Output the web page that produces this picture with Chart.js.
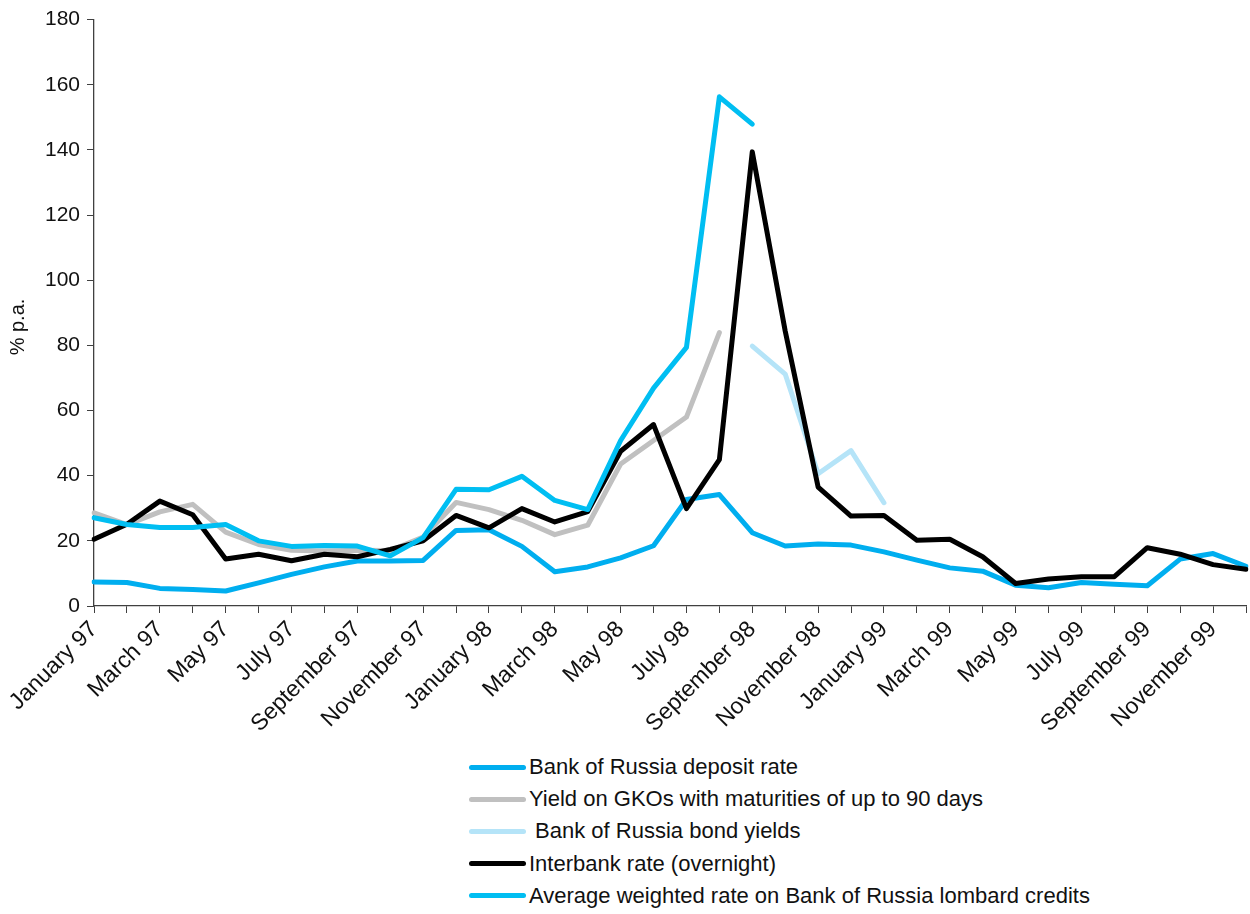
<!DOCTYPE html>
<html>
<head>
<meta charset="utf-8">
<title>Bank of Russia rates</title>
<script src="https://cdn.jsdelivr.net/npm/chart.js@4/dist/chart.umd.min.js"></script>
<style>
  html, body { margin: 0; padding: 0; background: #fff; }
  body { width: 1250px; height: 914px; position: relative; overflow: hidden; font-family: "Liberation Sans", Arial, sans-serif; }
  #wrap { position: absolute; left: 0; top: 0; width: 1250px; height: 750px; }
  #legend { position: absolute; left: 469px; top: 751px; }
  .row { height: 32.2px; display: flex; align-items: center; font-size: 22px; color: #111; white-space: pre; }
  .swatch { width: 57px; height: 5px; border-radius: 3px; margin-right: 3px; }
</style>
</head>
<body>
<div id="wrap"><canvas id="ratesChart"></canvas></div>
<div id="legend"></div>
<script>
// Monthly data, January 1997 - December 1999 (% p.a.)
const months = [
  "January 97", "February 97", "March 97", "April 97", "May 97", "June 97",
  "July 97", "August 97", "September 97", "October 97", "November 97", "December 97",
  "January 98", "February 98", "March 98", "April 98", "May 98", "June 98",
  "July 98", "August 98", "September 98", "October 98", "November 98", "December 98",
  "January 99", "February 99", "March 99", "April 99", "May 99", "June 99",
  "July 99", "August 99", "September 99", "October 99", "November 99", "December 99",
]

const depositRate = [7.4, 7.2, 5.4, 5.1, 4.6, 7.1, 9.7, 12.0, 13.8, 13.8, 14.0, 23.2,
  23.4, 18.3, 10.5, 12.0, 14.8, 18.5, 32.7, 34.2, 22.5, 18.4, 19.0, 18.7,
  16.6, 14.1, 11.7, 10.7, 6.4, 5.6, 7.2, 6.7, 6.2, 14.4, 16.1, 12.2]

const gkoYield = [28.6, 25.0, 28.9, 31.2, 22.7, 18.9, 17.1, 16.9, 17.1, 17.0, 21.2, 31.8,
  29.6, 26.3, 21.9, 24.8, 43.6, 50.8, 58.0, 83.9, null, null, null, null,
  null, null, null, null, null, null, null, null, null, null, null, null]

const bondYield = [null, null, null, null, null, null, null, null, null, null, null, null,
  null, null, null, null, null, null, null, null, 79.8, 71.2, 40.6, 47.7,
  31.7, null, null, null, null, null, null, null, null, null, null, null]

const interbankRate = [20.5, 25.1, 32.2, 28.0, 14.4, 15.9, 13.9, 15.9, 15.1, 17.4, 20.0, 27.8,
  24.0, 29.9, 25.8, 29.0, 47.5, 55.7, 29.9, 44.9, 139.4, 84.4, 36.5, 27.6,
  27.8, 20.2, 20.5, 15.1, 6.9, 8.3, 9.0, 9.0, 17.9, 15.9, 12.7, 11.3]

const lombardRate = [27.1, 25.0, 24.1, 24.1, 25.0, 20.0, 18.3, 18.6, 18.4, 15.4, 21.0, 35.8,
  35.7, 39.8, 32.4, 29.6, 50.8, 66.9, 79.4, 156.3, 147.9, null, null, null,
  null, null, null, null, null, null, null, null, null, null, null, null]

const seriesLabels = [
  "Bank of Russia deposit rate",
  "Yield on GKOs with maturities of up to 90 days",
  " Bank of Russia bond yields",
  "Interbank rate (overnight)",
  "Average weighted rate on Bank of Russia lombard credits",
]

const yTitle = "% p.a."
const yMin = 0
const yMax = 180
const yStep = 20

const fontFamily = '"Liberation Sans", Arial, sans-serif'
const axisColor = "#404040"

function lineSet(label, data, color, order) {
  return {
    label: label,
    data: data,
    borderColor: color,
    backgroundColor: color,
    borderWidth: 5,
    pointRadius: 0,
    pointHoverRadius: 0,
    tension: 0,
    spanGaps: false,
    borderJoinStyle: "round",
    borderCapStyle: "round",
    order: order,
  }
}

// y-axis title, placed a little below the axis middle like the original
const yTitlePlugin = {
  id: "yTitle",
  afterDraw(chart) {
    const c = chart.ctx
    c.save()
    c.translate(18, 327)
    c.rotate(-Math.PI / 2)
    c.font = "20px " + fontFamily
    c.fillStyle = "#111"
    c.textAlign = "center"
    c.textBaseline = "middle"
    c.fillText(yTitle, 0, 0)
    c.restore()
  },
}

const ctx = document.getElementById("ratesChart").getContext("2d")
const chart = new Chart(ctx, {
  type: "line",
  data: {
    labels: months,
    datasets: [
      lineSet(seriesLabels[0], depositRate, "#00AEEF", 4),
      lineSet(seriesLabels[1], gkoYield, "#C0C0C0", 3),
      lineSet(seriesLabels[2], bondYield, "#B5E4F8", 2),
      lineSet(seriesLabels[3], interbankRate, "#000000", 1),
      lineSet(seriesLabels[4], lombardRate, "#00BEF2", 0),
    ],
  },
  plugins: [yTitlePlugin],
  options: {
    responsive: true,
    maintainAspectRatio: false,
    animation: false,
    layout: { padding: { top: 18, right: 4, bottom: 0, left: 0 } },
    plugins: {
      legend: { display: false },
      tooltip: { enabled: false },
    },
    scales: {
      x: {
        offset: false,
        afterFit: (scale) => {
          scale.height = 144
          scale.paddingRight = 0
        },
        grid: { drawOnChartArea: false, drawTicks: true, tickLength: 7, color: axisColor, lineWidth: 1 },
        border: { display: true, color: axisColor, width: 1.3 },
        ticks: {
          autoSkip: false,
          minRotation: 45,
          maxRotation: 45,
          padding: 3,
          color: "#111",
          font: { family: fontFamily, size: 23 },
          callback: function (value, index) {
            return index % 2 === 0 ? this.getLabelForValue(value) : ""
          },
        },
      },
      y: {
        min: yMin,
        max: yMax,
        afterFit: (scale) => { scale.width = 94 },
        grid: { drawOnChartArea: false, drawTicks: true, tickLength: 7, color: axisColor, lineWidth: 1 },
        border: { display: true, color: axisColor, width: 1.3 },
        ticks: {
          stepSize: yStep,
          padding: 7,
          color: "#111",
          font: { family: fontFamily, size: 21 },
        },
      },
    },
  },
})

// Build the stacked legend from the chart's datasets
function buildLegend() {
  const legend = document.getElementById("legend")
  legend.innerHTML = ""
  chart.data.datasets.forEach((ds) => {
    const row = document.createElement("div")
    row.className = "row"
    const swatch = document.createElement("span")
    swatch.className = "swatch"
    swatch.style.background = ds.borderColor
    const text = document.createElement("span")
    text.textContent = ds.label
    row.appendChild(swatch)
    row.appendChild(text)
    legend.appendChild(row)
  })
}

buildLegend()
</script>
</body>
</html>
